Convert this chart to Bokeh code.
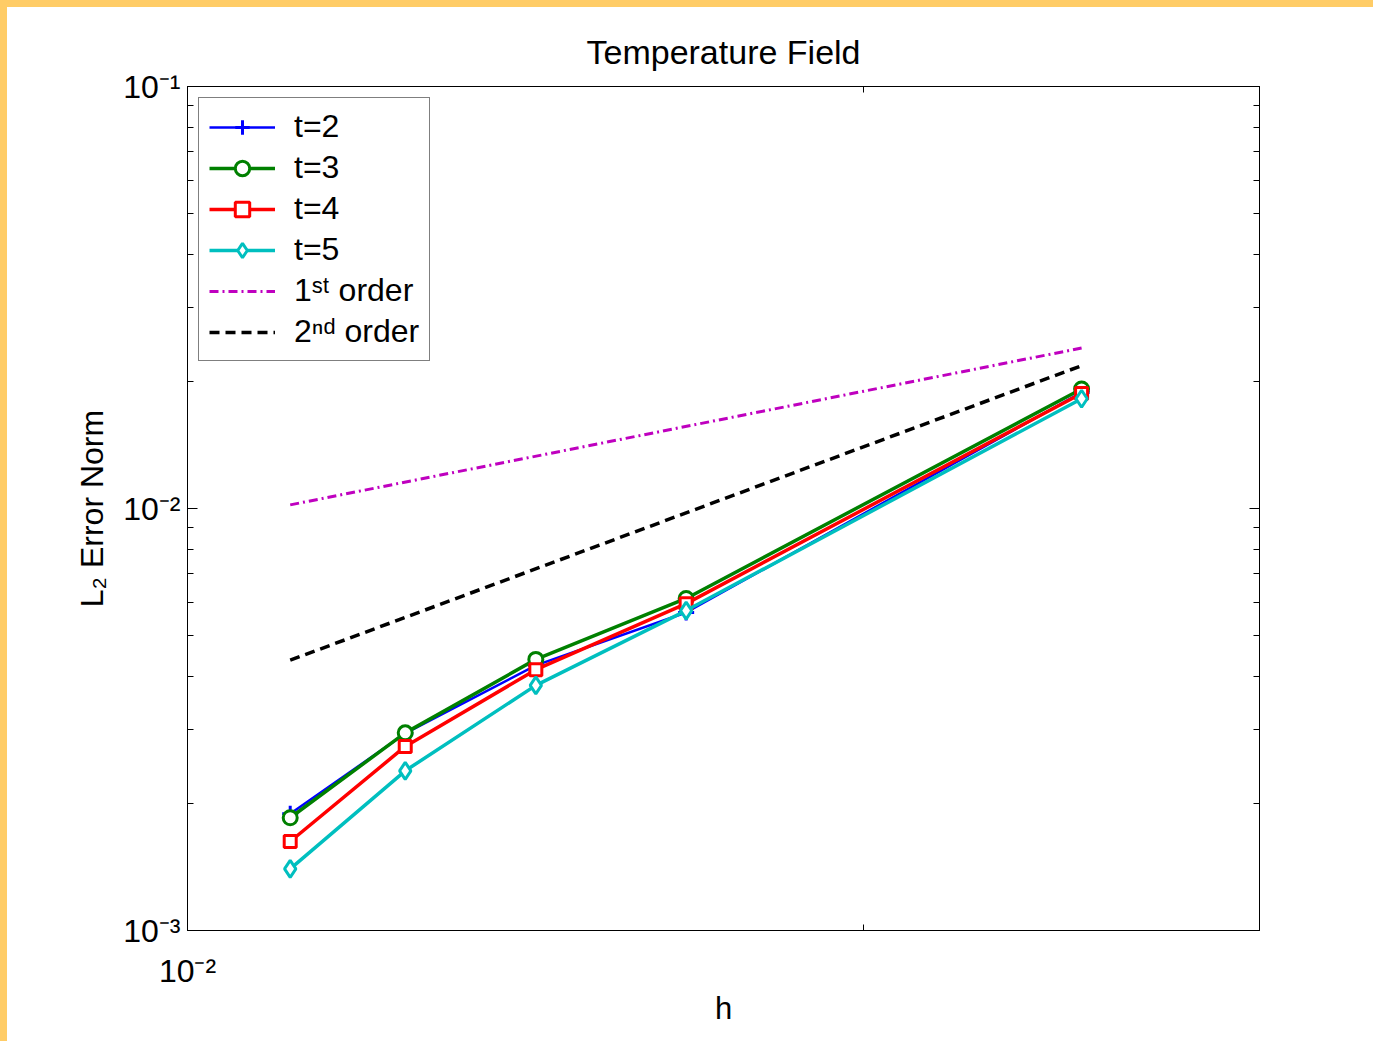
from bokeh.plotting import figure
from bokeh.models import Range1d, FixedTicker, LogAxis, Legend, LegendItem
from bokeh.embed import file_html
from bokeh.resources import INLINE

# ---- data ----
h = [0.01111, 0.0125, 0.01429, 0.01667, 0.025]
err_t2 = [1.89e-3, 2.93e-3, 4.25e-3, 5.67e-3, 1.884e-2]
err_t3 = [1.85e-3, 2.94e-3, 4.39e-3, 6.12e-3, 1.92e-2]
err_t4 = [1.625e-3, 2.73e-3, 4.15e-3, 5.95e-3, 1.873e-2]
err_t5 = [1.40e-3, 2.39e-3, 3.81e-3, 5.73e-3, 1.82e-2]

h_ref = [0.01111, 0.025]
ref_1st = [0.0102, 0.0240]
ref_2nd = [0.00437, 0.0218]

x_major = [0.01]
x_minor = [0.02, 0.03]
y_major = [1e-3, 1e-2, 1e-1]
y_minor = [2e-3, 3e-3, 4e-3, 5e-3, 6e-3, 7e-3, 8e-3, 9e-3,
           2e-2, 3e-2, 4e-2, 5e-2, 6e-2, 7e-2, 8e-2, 9e-2]
x_labels = {0.01: "10\u207b\u00b2"}
y_labels = {1e-3: "10\u207b\u00b3", 1e-2: "10\u207b\u00b2", 1e-1: "10\u207b\u00b9"}

FONT = "Liberation Sans"
EDGE = 7  # yellow slide edge, top and left

p = figure(width=1373, height=1041, x_axis_type="log", y_axis_type="log",
           x_range=Range1d(0.01, 0.03), y_range=Range1d(1e-3, 1e-1),
           output_backend="svg", toolbar_location=None,
           min_border_left=187 - EDGE, min_border_right=1373 + EDGE - 1259,
           min_border_top=86 - EDGE, min_border_bottom=1041 + EDGE - 930,
           title="Temperature Field")
p.styles = {"border-top": f"{EDGE}px solid #FFCC66",
            "border-left": f"{EDGE}px solid #FFCC66"}

p.background_fill_color = "white"
p.border_fill_color = "white"
p.outline_line_color = "black"
p.grid.visible = False

p.title.align = "center"
p.title.text_font = FONT
p.title.text_font_size = "34px"
p.title.text_font_style = "normal"
p.title.text_color = "black"
p.title.standoff = 32


def style_axis(ax, ticks, minors, labels, show_labels):
    ax.ticker = FixedTicker(ticks=ticks, minor_ticks=minors)
    ax.axis_line_color = "black"
    ax.major_tick_line_color = "black"
    ax.minor_tick_line_color = "black"
    ax.major_tick_in = 10
    ax.major_tick_out = 0
    ax.minor_tick_in = 6
    ax.minor_tick_out = 0
    ax.major_label_text_font = FONT
    if show_labels:
        ax.major_label_overrides = labels
        ax.major_label_text_font_size = "32px"
        ax.major_label_text_color = "black"
    else:
        ax.major_label_text_color = None
        ax.major_label_text_font_size = "4px"
        ax.major_label_standoff = 0


xa = p.xaxis[0]
style_axis(xa, x_major, x_minor, x_labels, True)
xa.major_label_standoff = 22
xa.axis_label = "h"
xa.axis_label_text_font = FONT
xa.axis_label_text_font_size = "31px"
xa.axis_label_text_font_style = "normal"
xa.axis_label_text_color = "black"
xa.axis_label_standoff = -1

ya = p.yaxis[0]
style_axis(ya, y_major, y_minor, y_labels, True)
ya.major_label_standoff = 7
ya.axis_label = "L\u2082 Error Norm"
ya.axis_label_text_font = FONT
ya.axis_label_text_font_size = "32px"
ya.axis_label_text_font_style = "normal"
ya.axis_label_text_color = "black"
ya.axis_label_standoff = 10

top_ax = LogAxis()
style_axis(top_ax, x_major, x_minor, x_labels, False)
p.add_layout(top_ax, "above")
right_ax = LogAxis()
style_axis(right_ax, y_major, y_minor, y_labels, False)
p.add_layout(right_ax, "right")

# ---- series ----
series = [
    ("t=2", err_t2, "#0000FF", "cross", 16, 2.5),
    ("t=3", err_t3, "#008000", "circle", 14, 3.5),
    ("t=4", err_t4, "#FF0000", "square", 12, 3.5),
    ("t=5", err_t5, "#00BFBF", "diamond", 17, 3.5),
]
items = []
for name, ys, col, mk, sz, lw in series:
    lr = p.line(h, ys, line_color=col, line_width=lw)
    sr = p.scatter(h, ys, marker=mk, size=sz, line_color=col, line_width=3,
                   fill_color="white" if mk != "cross" else None)
    items.append(LegendItem(label=name, renderers=[lr, sr]))

r1 = p.line(h_ref, ref_1st, line_color="#BF00BF", line_width=3, line_dash="9 4 2 4")
items.append(LegendItem(label="1\u02e2\u1d57 order", renderers=[r1]))
r2 = p.line(h_ref, ref_2nd, line_color="black", line_width=3.5, line_dash="10 6")
items.append(LegendItem(label="2\u207f\u1d48 order", renderers=[r2]))

legend = Legend(items=items, location="top_left")
legend.label_text_font = FONT
legend.label_text_font_size = "32px"
legend.label_text_color = "black"
legend.border_line_color = "black"
legend.border_line_width = 1
legend.background_fill_color = "white"
legend.background_fill_alpha = 1.0
legend.glyph_width = 66
legend.glyph_height = 36
legend.label_height = 36
legend.spacing = 4
legend.padding = 10
legend.margin = 11
legend.label_standoff = 19
p.add_layout(legend, "center")

open("out.html", "w").write(file_html(p, INLINE))
